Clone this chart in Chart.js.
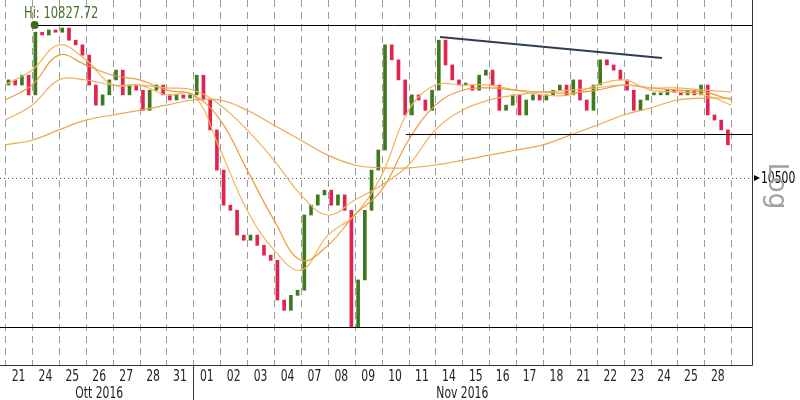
<!DOCTYPE html>
<html>
<head>
<meta charset="utf-8">
<script src="https://cdn.jsdelivr.net/npm/chart.js@4"></script>
<style>body{margin:0;background:#fff}</style>
</head>
<body>
<canvas id="myChart" width="800" height="400"></canvas>
<script>
// day labels along the bottom
const dayLabels = ["21","24","25","26","27","28","31","01","02","03","04","07","08","09","10","11","14","15","16","17","18","21","22","23","24","25","28"];
const monthLabels = [{ text: "Ott 2016", from: 0, to: 7 }, { text: "Nov 2016", from: 7, to: 27 }];

// 4 intraday closes per day
const closes = [
  10710,10699,10720,10678, 10812,10806,10817,10812, 10821,10795,10785,10763,
  10699,10656,10678,10710, 10731,10678,10699,10688, 10645,10688,10699,10678,
  10667,10678,10671,10678, 10720,10667,10603,10517, 10442,10431,10378,10367,
  10378,10356,10335,10324, 10239,10217,10249,10260, 10421,10442,10464,10474,
  10442,10464,10431,10180, 10282,10431,10517,10560, 10785,10753,10710,10635,
  10678,10667,10645,10688, 10795,10742,10710,10699, 10699,10688,10720,10731,
  10699,10645,10656,10678, 10635,10667,10678,10667, 10678,10688,10699,10678,
  10710,10667,10645,10699, 10753,10742,10731,10710, 10688,10645,10667,10678,
  10678,10678,10688,10684, 10678,10688,10678,10699, 10635,10624,10603,10571
];
const firstOpen = 10699;

// moving averages at each day boundary
const ma1 = [10699,10731,10785,10753,10699,10699,10678,10678,10560,10431,10346,10303,10378,10421,10506,10645,10699,10699,10699,10688,10678,10678,10699,10710,10688,10684,10678,10656];
const ma2 = [10667,10699,10763,10742,10720,10710,10688,10678,10624,10517,10410,10324,10356,10421,10474,10581,10656,10688,10693,10688,10684,10682,10688,10699,10693,10688,10684,10667];
const ma3 = [10624,10656,10710,10710,10699,10699,10693,10688,10656,10603,10538,10464,10421,10453,10485,10528,10603,10645,10667,10678,10684,10688,10693,10699,10693,10693,10688,10684];
const ma4 = [10571,10581,10603,10624,10635,10645,10656,10667,10667,10645,10613,10581,10549,10528,10522,10522,10528,10538,10549,10560,10571,10592,10613,10635,10650,10667,10671,10671];

const hiValue = 10827.72;
const supportLevel = 10594;
const lowLevel = 10181;
const refLevel = 10500;
const trendStart = { x: 16.17, y: 10802 };
const trendEnd = { x: 24.42, y: 10757 };

const labelFont = "15px 'DejaVu Sans'";

var candles = [];
var candleColors = [];
var prev = firstOpen;
closes.forEach(function (c, i) {
  candles.push({ x: Math.floor(i / 4) + ((i % 4) + 0.5) / 4, y: [prev, c] });
  candleColors.push(c >= prev ? "#3d7a1c" : "#e3234f");
  prev = c;
});

function maSet(arr, color) {
  return {
    type: "line",
    data: arr.map(function (v, i) { return { x: i, y: v }; }),
    borderColor: color,
    borderWidth: 1.2,
    pointRadius: 0,
    tension: 0.4,
    fill: false,
  };
}

// narrow text like the original terminal font
function narrowText(ctx, text, x, y) {
  ctx.save();
  ctx.translate(x, y);
  ctx.scale(0.72, 1);
  ctx.fillText(text, 0, 0);
  ctx.restore();
}

const drawExtras = {
  id: "drawExtras",
  beforeDatasetsDraw(chart) {
    const ctx = chart.ctx;
    const xs = chart.scales.x, ys = chart.scales.y;
    const a = chart.chartArea;
    ctx.save();
    // dashed day grid
    ctx.strokeStyle = "#9a9a9a";
    ctx.lineWidth = 1;
    ctx.setLineDash([7, 5]);
    for (let i = 0; i <= dayLabels.length; i++) {
      const px = Math.round(xs.getPixelForValue(i)) + 0.5;
      ctx.beginPath(); ctx.moveTo(px, a.top); ctx.lineTo(px, a.bottom); ctx.stroke();
    }
    // dotted reference line
    ctx.setLineDash([1, 3]);
    ctx.strokeStyle = "#555";
    const ry = Math.round(ys.getPixelForValue(refLevel)) + 0.5;
    ctx.beginPath(); ctx.moveTo(a.left, ry); ctx.lineTo(a.right, ry); ctx.stroke();
    ctx.restore();
  },
  afterDatasetsDraw(chart) {
    const ctx = chart.ctx;
    const xs = chart.scales.x, ys = chart.scales.y;
    const a = chart.chartArea;
    ctx.save();
    ctx.strokeStyle = "#000";
    ctx.lineWidth = 1;
    function hline(v, x0) {
      const py = Math.round(ys.getPixelForValue(v)) + 0.5;
      ctx.beginPath(); ctx.moveTo(x0, py); ctx.lineTo(a.right, py); ctx.stroke();
    }
    const hiX = xs.getPixelForValue(1.1);
    hline(hiValue, hiX);
    hline(supportLevel, xs.getPixelForValue(14.9));
    hline(lowLevel, a.left);
    // trend line
    ctx.strokeStyle = "#2c3e50";
    ctx.lineWidth = 2;
    ctx.beginPath();
    ctx.moveTo(xs.getPixelForValue(trendStart.x), ys.getPixelForValue(trendStart.y));
    ctx.lineTo(xs.getPixelForValue(trendEnd.x), ys.getPixelForValue(trendEnd.y));
    ctx.stroke();
    // frame
    ctx.strokeStyle = "#333";
    ctx.lineWidth = 1;
    ctx.beginPath();
    ctx.moveTo(a.right + 0.5, a.top); ctx.lineTo(a.right + 0.5, a.bottom + 0.5); ctx.lineTo(a.left, a.bottom + 0.5);
    ctx.stroke();
    // hi marker
    ctx.fillStyle = "#3d6b1e";
    ctx.beginPath(); ctx.arc(hiX, ys.getPixelForValue(hiValue), 4, 0, Math.PI * 2); ctx.fill();
    ctx.fillStyle = "#4a6e2a";
    ctx.font = "16px 'DejaVu Sans'";
    ctx.textAlign = "left"; ctx.textBaseline = "middle";
    narrowText(ctx, "Hi: " + hiValue.toFixed(2), 24, 14);
    // right axis label
    const ry = ys.getPixelForValue(refLevel);
    ctx.fillStyle = "#000";
    ctx.beginPath(); ctx.moveTo(a.right + 2, ry - 3); ctx.lineTo(a.right + 8, ry); ctx.lineTo(a.right + 2, ry + 3); ctx.fill();
    ctx.font = labelFont;
    narrowText(ctx, refLevel.toString(), a.right + 9, ry + 1);
    ctx.save();
    ctx.translate(776, 186);
    ctx.rotate(Math.PI / 2);
    ctx.fillStyle = "#a0a0a0";
    ctx.font = "26px 'DejaVu Sans'";
    ctx.textAlign = "center";
    ctx.fillText("Log", 0, 0);
    ctx.restore();
    // x labels
    ctx.fillStyle = "#222";
    ctx.textAlign = "center";
    ctx.font = labelFont;
    dayLabels.forEach(function (d, i) {
      narrowText(ctx, d, xs.getPixelForValue(i + 0.5), a.bottom + 12);
    });
    monthLabels.forEach(function (m) {
      const mid = (xs.getPixelForValue(m.from) + xs.getPixelForValue(m.to)) / 2;
      narrowText(ctx, m.text, mid, a.bottom + 29);
    });
    const sx = Math.round(xs.getPixelForValue(7)) + 0.5;
    ctx.strokeStyle = "#333";
    ctx.beginPath(); ctx.moveTo(sx, a.bottom); ctx.lineTo(sx, 400); ctx.stroke();
    ctx.restore();
  },
};

var ctx = document.getElementById("myChart").getContext("2d");
var myChart = new Chart(ctx, {
  type: "bar",
  data: {
    datasets: [
      maSet(ma4, "#f0a54a"),
      maSet(ma3, "#f2b060"),
      maSet(ma2, "#ee9a3a"),
      maSet(ma1, "#f5b45a"),
      {
        type: "bar",
        data: candles,
        backgroundColor: candleColors,
        borderColor: candleColors,
        barThickness: 3,
        minBarLength: 2,
      },
    ],
  },
  options: {
    responsive: false,
    animation: false,
    devicePixelRatio: 1,
    layout: { padding: { left: 0, top: 0, right: 48, bottom: 35 } },
    plugins: { legend: { display: false }, tooltip: { enabled: false } },
    scales: {
      x: { type: "linear", min: -0.19, max: 27.77, offset: false, display: false },
      y: { type: "linear", min: 10100, max: 10881, display: false },
    },
  },
  plugins: [drawExtras],
});
</script>
</body>
</html>
